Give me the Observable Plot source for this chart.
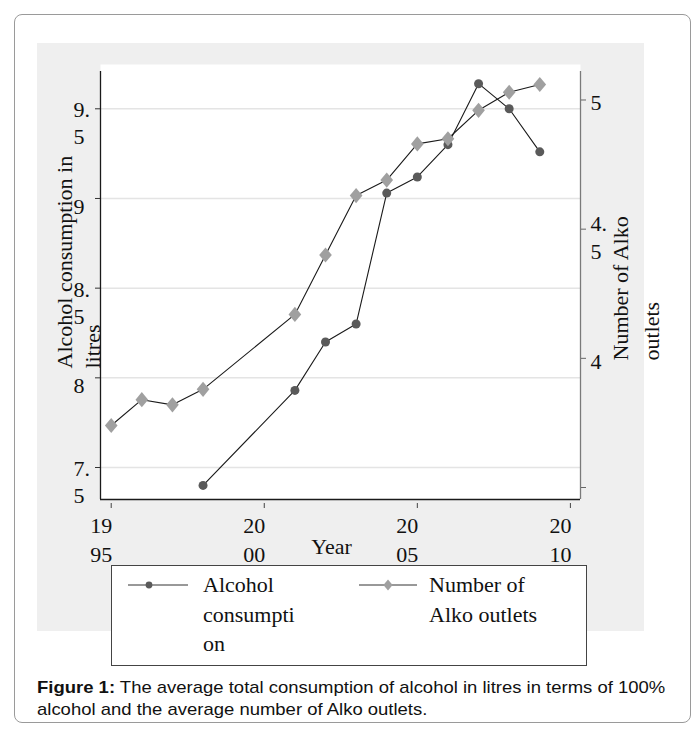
<!DOCTYPE html>
<html>
<head>
<meta charset="utf-8">
<script src="https://cdn.jsdelivr.net/npm/d3@7"></script>
<script src="https://cdn.jsdelivr.net/npm/@observablehq/plot@0.6"></script>
<style>
  html, body { margin: 0; padding: 0; background: #fff; }
  body { width: 699px; height: 736px; position: relative; overflow: hidden; }
  #border { position: absolute; left: 14px; top: 14px; width: 677px; height: 709px; box-sizing: border-box;
            border: 1.3px solid #9a9a9a; border-radius: 8px; }
  #panel { position: absolute; left: 37px; top: 43px; width: 607px; height: 588px; background: #efefef; }
  #chart { position: absolute; left: 0; top: 0; }
  #legend { position: absolute; left: 111px; top: 565px; width: 476px; height: 101px; box-sizing: border-box;
            border: 1.3px solid #444; background: #fff; font-family: "Liberation Serif", "Times New Roman", serif;
            font-size: 22px; color: #111; }
  .sw { position: absolute; top: 11px; overflow: visible; }
  .lt { position: absolute; top: 4px; line-height: 29.5px; white-space: pre; }
  #caption { position: absolute; left: 37px; top: 677px; font-family: "Liberation Sans", Arial, sans-serif;
             font-size: 17px; line-height: 22px; color: #111; white-space: nowrap;
             transform: scaleX(1.087); transform-origin: left top; }
</style>
</head>
<body>
<div id="border"></div>
<div id="panel"></div>
<div id="chart"></div>
<div id="legend"></div>
<div id="caption"></div>
<script>
// ---- data ----
const alcoholYears = [1998, 2001, 2002, 2003, 2004, 2005, 2006, 2007, 2008, 2009];
const alcoholLitres = [7.40, 7.93, 8.20, 8.30, 9.03, 9.12, 9.30, 9.64, 9.50, 9.26];

const outletYears = [1995, 1996, 1997, 1998, 2001, 2002, 2003, 2004, 2005, 2006, 2007, 2008, 2009];
const outletValues = [3.74, 3.84, 3.82, 3.88, 4.17, 4.40, 4.63, 4.69, 4.83, 4.85, 4.96, 5.03, 5.06];

const xTicks = [1995, 2000, 2005, 2010];
const xTickLabels = ["19\n95", "20\n00", "20\n05", "20\n10"];
const leftTicks = [7.5, 8, 8.5, 9, 9.5];
const leftTickLabels = ["7.\n5", "8", "8.\n5", "9", "9.\n5"];
const rightTicks = [3.5, 4, 4.5, 5];
const rightTickLabels = ["", "4", "4.\n5", "5"];

const xTitle = "Year";
const leftTitle = "Alcohol consumption in\nlitres";
const rightTitle = "Number of Alko\noutlets";
const seriesNames = ["Alcohol\nconsumpti\non", "Number of\nAlko outlets"];
const captionBold = "Figure 1:";
const captionLines = [" The average total consumption of alcohol in litres in terms of 100%",
                      "alcohol and the average number of Alko outlets."];

// ---- scales ----
const xDomain = [1994.65, 2010.33];
const yDomain = [7.3216, 9.708];
// right axis (outlets) expressed on the left (litres) scale
const toL = d3.scaleLinear().domain([3.5, 5]).range([7.3885, 9.5491]);

const alcohol = alcoholYears.map((year, i) => ({year, value: alcoholLitres[i]}));
const outlets = outletYears.map((year, i) => ({year, value: outletValues[i]}));

const leftLabel = d => leftTickLabels[leftTicks.indexOf(d)];
const leftTwo = leftTicks.filter((d, i) => leftTickLabels[i].includes("\n"));
const leftOne = leftTicks.filter((d, i) => !leftTickLabels[i].includes("\n"));
const rightMapped = rightTicks.map(toL);
const rightLabel = d => rightTickLabels[rightMapped.indexOf(d)];
const rightTwo = rightMapped.filter((d, i) => rightTickLabels[i].includes("\n"));
const rightOne = rightMapped.filter((d, i) => rightTickLabels[i] && !rightTickLabels[i].includes("\n"));
const xLabel = d => xTickLabels[xTicks.indexOf(d)];

const tallDiamond = {
  draw(ctx, size) {
    const h = Math.sqrt(size) * 0.56, w = h * 0.84;
    ctx.moveTo(0, -h); ctx.lineTo(w, 0); ctx.lineTo(0, h); ctx.lineTo(-w, 0); ctx.closePath();
  }
};

const chart = Plot.plot({
  width: 699, height: 631,
  marginLeft: 100, marginRight: 119, marginTop: 71, marginBottom: 132,
  x: {domain: xDomain},
  y: {domain: yDomain},
  style: {fontFamily: '"Liberation Serif", "Times New Roman", serif', fontSize: "22px",
          background: "transparent", color: "#111", overflow: "visible"},
  marks: [
    Plot.frame({fill: "#fff", stroke: "none", insetTop: -7}),
    Plot.gridY(leftTicks, {stroke: "#e4e4e4", strokeOpacity: 1, strokeWidth: 1.5}),
    Plot.ruleX(xDomain.slice(0, 1), {stroke: "#1a1a1a", strokeWidth: 1.3}),
    Plot.ruleX(xDomain.slice(1), {stroke: "#7a7a7a", strokeWidth: 1.3}),
    Plot.ruleY(yDomain.slice(0, 1), {stroke: "#1a1a1a", strokeWidth: 1.3}),
    // left axis
    Plot.axisY(leftTicks, {anchor: "left", tickSize: 5, tickFormat: () => "", label: null, stroke: "#333"}),
    Plot.axisY(leftTwo, {anchor: "left", tickSize: 0, tickPadding: 27, textAnchor: "start", lineAnchor: "top",
                         lineHeight: 27 / 22, dy: -10.8, tickFormat: leftLabel, label: null, fontSize: 22}),
    Plot.axisY(leftOne, {anchor: "left", tickSize: 0, tickPadding: 27, textAnchor: "start",
                         dy: 8.4, tickFormat: leftLabel, label: null, fontSize: 22}),
    // right axis
    Plot.axisY(rightMapped, {anchor: "right", tickSize: 5, tickFormat: () => "", label: null, stroke: "#666"}),
    Plot.axisY(rightTwo, {anchor: "right", tickSize: 0, tickPadding: 10, textAnchor: "start", lineAnchor: "top",
                          lineHeight: 28.5 / 22, dy: -18.9, tickFormat: rightLabel, label: null, fontSize: 22}),
    Plot.axisY(rightOne, {anchor: "right", tickSize: 0, tickPadding: 10, textAnchor: "start",
                          dy: 3.4, tickFormat: rightLabel, label: null, fontSize: 22}),
    // x axis
    Plot.axisX(xTicks, {anchor: "bottom", tickSize: 5, dy: 4, tickFormat: () => "", label: null, stroke: "#444"}),
    Plot.axisX(xTicks, {anchor: "bottom", tickSize: 0, tickPadding: 11.8, textAnchor: "end", dx: 1,
                        lineAnchor: "top", lineHeight: 1.36, fontSize: 22, tickFormat: xLabel, label: null}),
    // titles
    Plot.text([leftTitle], {frameAnchor: "left", text: d => d, rotate: -90, textAnchor: "start",
                            lineAnchor: "bottom", lineHeight: 28 / 22, fontSize: 22, dx: -1, dy: 83}),
    Plot.text([rightTitle], {frameAnchor: "right", text: d => d, rotate: -90, textAnchor: "start",
                             lineAnchor: "bottom", lineHeight: 31 / 22, fontSize: 22, dx: 78, dy: 75}),
    Plot.text([xTitle], {frameAnchor: "bottom", text: d => d, lineAnchor: "bottom", fontSize: 22, dx: -9, dy: 54}),
    // data
    Plot.line(outlets, {x: "year", y: d => toL(d.value), stroke: "#1a1a1a", strokeWidth: 1.1}),
    Plot.line(alcohol, {x: "year", y: "value", stroke: "#1a1a1a", strokeWidth: 1.1}),
    Plot.dot(alcohol, {x: "year", y: "value", r: 4.5, fill: "#5a5a5a", stroke: "none"}),
    Plot.dot(outlets, {x: "year", y: d => toL(d.value), r: 7.6, symbol: tallDiamond, fill: "#a0a0a0", stroke: "none"})
  ]
});
document.getElementById("chart").appendChild(chart);

// ---- legend ----
const legend = document.getElementById("legend");
const ns = "http://www.w3.org/2000/svg";
function swatch(left, lineLen, markX, kind) {
  const svg = document.createElementNS(ns, "svg");
  svg.setAttribute("class", "sw");
  svg.setAttribute("width", lineLen);
  svg.setAttribute("height", 16);
  svg.style.left = left + "px";
  const ln = document.createElementNS(ns, "line");
  ln.setAttribute("x1", 0); ln.setAttribute("x2", lineLen);
  ln.setAttribute("y1", 8); ln.setAttribute("y2", 8);
  ln.setAttribute("stroke", "#333"); ln.setAttribute("stroke-width", 1);
  svg.appendChild(ln);
  let m;
  if (kind === "circle") {
    m = document.createElementNS(ns, "circle");
    m.setAttribute("cx", markX); m.setAttribute("cy", 8); m.setAttribute("r", 3.4);
    m.setAttribute("fill", "#5a5a5a");
  } else {
    m = document.createElementNS(ns, "path");
    m.setAttribute("d", `M${markX},2.5L${markX + 4.6},8L${markX},13.5L${markX - 4.6},8Z`);
    m.setAttribute("fill", "#a0a0a0");
  }
  svg.appendChild(m);
  legend.appendChild(svg);
}
function ltext(left, txt) {
  const d = document.createElement("div");
  d.className = "lt";
  d.style.left = left + "px";
  d.textContent = txt;
  legend.appendChild(d);
}
swatch(16, 60, 21, "circle");
ltext(91, seriesNames[0]);
swatch(247, 58, 29, "diamond");
ltext(317, seriesNames[1]);

// ---- caption ----
const cap = document.getElementById("caption");
const b = document.createElement("b");
b.textContent = captionBold;
cap.appendChild(b);
cap.appendChild(document.createTextNode(captionLines[0]));
cap.appendChild(document.createElement("br"));
cap.appendChild(document.createTextNode(captionLines[1]));
</script>
</body>
</html>
